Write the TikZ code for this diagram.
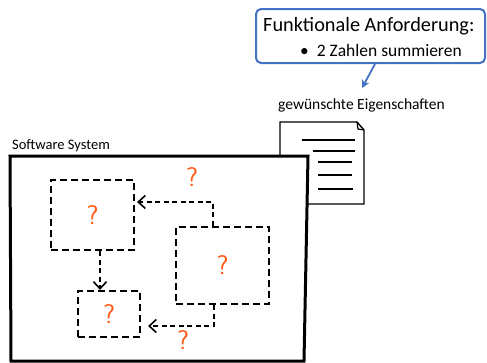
\documentclass[tikz,border=0pt]{standalone}
\usepackage{fontspec}
\setmainfont{Carlito}
\usetikzlibrary{arrows.meta}
\definecolor{callblue}{HTML}{4472C4}
\definecolor{qorange}{HTML}{FF5A14}
\tikzset{
  part/.style={draw=black,line width=2.2pt,dash pattern=on 7pt off 4pt,minimum width=#1},
  flow/.style={draw=black,line width=2.2pt,dash pattern=on 5pt off 3.5pt,-{Straight Barb[length=7pt,width=13pt,line width=1.6pt]}},
  qmark/.style={text=qorange,font=\sffamily\fontsize{27}{27}\selectfont},
  hand/.style={font=\fontsize{15.5}{16}\selectfont,inner sep=0pt},
}
\begin{document}
\begin{tikzpicture}[x=1pt,y=-1pt]
  \useasboundingbox (0,0) rectangle (487,362);
  % requirement callout
  \node[draw=callblue,line width=2pt,rounded corners=5pt,minimum width=229pt,minimum height=54pt,fill=white] (req) at (370.5,36) {};
  \node[anchor=base west,inner sep=0pt,font=\fontsize{20.3}{21}\selectfont] (reqtitle) at (263,31) {Funktionale Anforderung:};
  \node[anchor=base west,inner sep=0pt,font=\fontsize{17.5}{18}\selectfont] (reqitem) at (300,56) {\textbullet\hspace{8pt}2 Zahlen summieren};
  \coordinate (reqtip) at (362,88);
  \draw[callblue,line width=1.8pt,-{Stealth[length=8pt,width=8pt]}] ([xshift=4.5pt]req.south) -- (reqtip);

  % document with the wanted properties
  \node[hand,anchor=base west] (want) at (278,109) {gewünschte Eigenschaften};
  \draw[line width=1.4pt,fill=white] (280,122) -- (357,122) -- (364,130) -- (364,204) -- (280,204) -- cycle;
  \draw[line width=1.2pt] (357,122) -- (358,129) -- (364,130);
  \foreach \y/\a/\b in {140/302/355,151/313/355,162/318/352,175/318/352,189/318/353}
    \draw[line width=1.4pt] (\a,\y) -- (\b,\y);

  % the system
  \node[hand,anchor=base west,font=\fontsize{14.5}{15}\selectfont] (syslabel) at (12,149) {Software System};
  \draw[line width=3pt,fill=white] (10,156) -- (308,156) -- (304,361) -- (11,361) -- cycle;

  % unknown parts
  \node[part=83pt,minimum height=70pt] (boxA) at (92.5,215) {};
  \node[part=62pt,minimum height=46pt] (boxB) at (109,314) {};
  \node[part=93pt,minimum height=77pt] (boxC) at (222.5,265.5) {};
  \node[qmark] (qA) at (boxA) {?};
  \node[qmark] (qB) at (boxB) {?};
  \node[qmark] (qC) at (boxC) {?};

  % unknown connections
  \draw[flow] ([xshift=-9.5pt]boxC.north) |- ([xshift=2pt,yshift=13pt]boxA.east);
  \draw[flow] ([xshift=7.5pt]boxA.south) -- ([xshift=7.5pt]boxA.south |- boxB.north);
  \draw[flow] ([xshift=-8.5pt]boxC.south) |- ([xshift=7pt,yshift=-12pt]boxB.east);
  \node[qmark] (qCA) at (192,177) {?};
  \node[qmark] (qCB) at (183,340) {?};
\end{tikzpicture}
\end{document}
